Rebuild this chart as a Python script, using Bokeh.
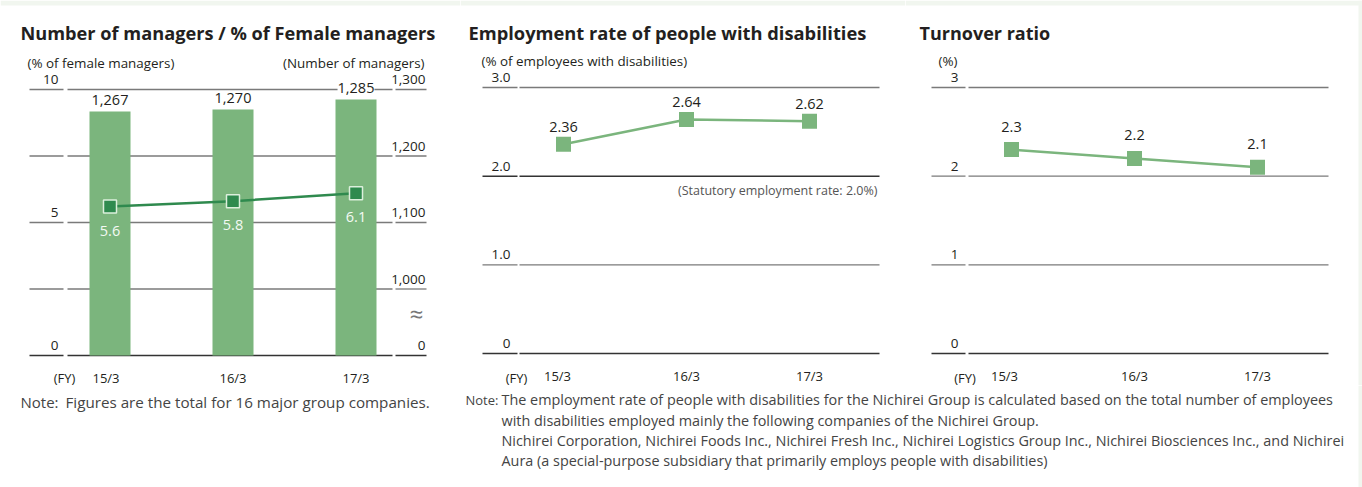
from bokeh.plotting import figure
from bokeh.layouts import column, row
from bokeh.models import ColumnDataSource, Range1d, Label, LabelSet, BoxAnnotation
from bokeh.core.properties import value
from bokeh.embed import file_html
from bokeh.resources import INLINE

FONT = "Open Sans"
TXT = "#231f20"
NOTE = "#444444"
GREEN = "#7bb57d"
DARK_GREEN = "#2f8a4e"
STRIP = "#f1f6ef"

# ---------------- data ----------------
years = ["15/3", "16/3", "17/3"]
managers = [1267, 1270, 1285]
female_pct = [5.6, 5.8, 6.1]
disab_rate = [2.36, 2.64, 2.62]
turnover = [2.3, 2.2, 2.1]

mgr_left_ticks = [0, 2.5, 5, 7.5, 10]
mgr_left_labels = ["0", "", "5", "", "10"]
mgr_right_ticks = [900, 1000, 1100, 1200, 1300]
mgr_right_labels = ["0", "1,000", "1,100", "1,200", "1,300"]
mgr_axis_base = 900          # value drawn at the broken-axis "0"
mgr_per_pct_unit = 40        # 1 unit on left axis = 40 managers on right axis
disab_ticks = [0, 1, 2, 3]
disab_labels = ["0", "1.0", "2.0", "3.0"]
statutory_rate = 2
turn_ticks = [0, 1, 2, 3]
turn_labels = ["0", "1", "2", "3"]

# ---------------- layout (page pixels) ----------------
ROW_H = 385
NOTE_H = 102
STEP = 123.0
idx = list(range(len(years)))


class Panel:
    def __init__(self, fig_x0, fig_w, cat0, y_zero, ppu, strip_right=False):
        self.cat0, self.fx0, self.y_zero, self.ppu = cat0, fig_x0, y_zero, ppu
        p = figure(width=fig_w, height=ROW_H,
                   x_range=Range1d(self.dx(fig_x0), self.dx(fig_x0 + fig_w)),
                   y_range=Range1d(self.dy(ROW_H), self.dy(0)),
                   output_backend="svg", toolbar_location=None,
                   x_axis_location=None, y_axis_location=None, min_border=0,
                   outline_line_color=None, background_fill_color="white",
                   border_fill_color="white")
        p.xgrid.visible = False
        p.ygrid.visible = False
        p.add_layout(BoxAnnotation(bottom=self.dy(5), fill_color=STRIP, fill_alpha=1,
                                   line_color=None, level="underlay"))
        if strip_right:
            p.add_layout(BoxAnnotation(left=self.dx(1358), fill_color=STRIP, fill_alpha=1,
                                       line_color=None, level="underlay"))
        self.p = p

    def dx(self, px):
        return (px - self.cat0) / STEP

    def dy(self, py):
        return (self.y_zero - py) / self.ppu

    def grid_segments(self, ticks, segs, dark_vals, y_range_name="default"):
        x0, x1, ys, cols, wid = [], [], [], [], []
        for t in ticks:
            for a, b in segs:
                x0.append(self.dx(a)); x1.append(self.dx(b)); ys.append(t)
                cols.append("#333333" if t in dark_vals else "#7a7a7a")
                wid.append(1.5 if t in dark_vals else 1.3)
        self.p.segment(x0=x0, y0=ys, x1=x1, y1=ys, line_color=cols, line_width=wid,
                       y_range_name=y_range_name)

    def tick_text(self, x_px, ticks, labels, y_range_name="default"):
        self.p.text(x=[self.dx(x_px)] * len(ticks), y=ticks, text=labels,
                    text_font=value(FONT), text_font_size="13.5px", text_color=TXT,
                    text_align="right", text_baseline="middle", y_offset=-10,
                    y_range_name=y_range_name)

    def cat_text(self, base, first_shift):
        self.p.text(x=idx, y=[base] * len(idx), text=years, text_font=value(FONT),
                    text_font_size="13px", text_color=TXT, text_align="center",
                    text_baseline="middle", y_offset=22,
                    x_offset=[first_shift] + [0] * (len(idx) - 1))

    def slabel(self, px, py, text, size="13.4px", align="left", color=TXT, bold=False):
        self.p.add_layout(Label(x=px - self.fx0, y=ROW_H - py, x_units="screen",
                                y_units="screen", text=text, text_font=FONT,
                                text_font_size=size, text_align=align,
                                text_baseline="middle", text_color=color,
                                text_font_style="bold" if bold else "normal"))


# ---------------- chart 1 ----------------
c1 = Panel(0, 460, 109.5, 355, 266 / 10)
p1 = c1.p
ys = p1.y_range
p1.extra_y_ranges = {"mgr": Range1d(mgr_axis_base + mgr_per_pct_unit * ys.start,
                                    mgr_axis_base + mgr_per_pct_unit * ys.end)}
c1.grid_segments(mgr_left_ticks, [(29, 63), (67, 392), (395, 426)], [0])
c1.tick_text(58, mgr_left_ticks, mgr_left_labels)
c1.tick_text(425, mgr_right_ticks, mgr_right_labels, "mgr")
c1.cat_text(mgr_left_ticks[0], -4)
p1.vbar(x=idx, top=managers, bottom=mgr_axis_base, width=41 / STEP, fill_color=GREEN,
        line_color=None, y_range_name="mgr")
src1 = ColumnDataSource(dict(x=idx, y=managers, t=[f"{v:,}" for v in managers]))
p1.add_layout(LabelSet(x="x", y="y", text="t", source=src1, y_range_name="mgr",
                       text_font=value(FONT), text_font_size="14.5px", text_color=TXT,
                       text_align="center", text_baseline="middle", y_offset=11,
                       background_fill_color="white"))
p1.line(idx, female_pct, line_color=DARK_GREEN, line_width=2.5)
p1.scatter(idx, female_pct, marker="square", size=13, fill_color=DARK_GREEN,
           line_color="#dcefdc", line_width=1.5)
p1.text(x=idx, y=female_pct, text=[f"{v:.1f}" for v in female_pct], text_font=value(FONT),
        text_font_size="14.5px", text_color="#f4faf4", text_align="center",
        text_baseline="middle", y_offset=24)
c1.slabel(20, 32, "Number of managers / % of Female managers", size="18.2px", bold=True)
c1.slabel(27, 62, "(% of female managers)")
c1.slabel(424, 62, "(Number of managers)", align="right")
c1.slabel(64, 377, "(FY)", size="13px", align="center")
c1.slabel(416, 313, "≈", size="24px", align="center", color="#777777")

# ---------------- chart 2 ----------------
c2 = Panel(460, 445, 563, 353, 266 / 3)
p2 = c2.p
c2.grid_segments(disab_ticks, [(482, 517), (519, 879)], [0, statutory_rate])
c2.tick_text(510, disab_ticks, disab_labels)
c2.cat_text(disab_ticks[0], -6)
p2.line(idx, disab_rate, line_color=GREEN, line_width=2.5)
p2.scatter(idx, disab_rate, marker="square", size=15, fill_color=GREEN, line_color=None)
p2.text(x=idx, y=disab_rate, text=[f"{v:.2f}" for v in disab_rate], text_font=value(FONT),
        text_font_size="14.5px", text_color=TXT, text_align="center",
        text_baseline="middle", y_offset=-17)
c2.slabel(468, 32, "Employment rate of people with disabilities", size="18.3px", bold=True)
c2.slabel(481, 60, "(% of employees with disabilities)")
c2.slabel(877, 190, "(Statutory employment rate: 2.0%)", size="12.5px", align="right",
          color="#555555")
c2.slabel(516, 377, "(FY)", size="13px", align="center")

# ---------------- chart 3 ----------------
c3 = Panel(905, 457, 1011, 353, 266 / 3, strip_right=True)
p3 = c3.p
c3.grid_segments(turn_ticks, [(931, 965), (968, 1328)], [0])
c3.tick_text(958, turn_ticks, turn_labels)
c3.cat_text(turn_ticks[0], -7)
p3.line(idx, turnover, line_color=GREEN, line_width=2.5)
p3.scatter(idx, turnover, marker="square", size=15, fill_color=GREEN, line_color=None)
p3.text(x=idx, y=turnover, text=[f"{v:.1f}" for v in turnover], text_font=value(FONT),
        text_font_size="14.5px", text_color=TXT, text_align="center",
        text_baseline="middle", y_offset=-23)
c3.slabel(919, 32, "Turnover ratio", size="18px", bold=True)
c3.slabel(938, 60, "(%)")
c3.slabel(964.5, 377, "(FY)", size="13px", align="center")

# ---------------- notes ----------------
pn = figure(width=1362, height=NOTE_H, x_range=Range1d(0, 1362), y_range=Range1d(0, NOTE_H),
            output_backend="svg", toolbar_location=None, x_axis_location=None,
            y_axis_location=None, min_border=0, outline_line_color=None)
pn.xgrid.visible = False
pn.ygrid.visible = False
pn.add_layout(BoxAnnotation(left=1358, fill_color=STRIP, fill_alpha=1, line_color=None,
                            level="underlay"))


def nlabel(px, py, text, size="14.4px"):
    pn.add_layout(Label(x=px, y=ROW_H + NOTE_H - py, x_units="screen", y_units="screen",
                        text=text, text_font=FONT, text_font_size=size, text_align="left",
                        text_baseline="middle", text_color=NOTE))


nlabel(20, 401, "Note:", size="15px")
nlabel(65, 401, "Figures are the total for 16 major group companies.", size="15.2px")
nlabel(465, 399, "Note:", size="13px")
nlabel(501, 399, "The employment rate of people with disabilities for the Nichirei Group is "
       "calculated based on the total number of employees")
nlabel(501, 420, "with disabilities employed mainly the following companies of the Nichirei Group.")
nlabel(501, 440, "Nichirei Corporation, Nichirei Foods Inc., Nichirei Fresh Inc., Nichirei "
       "Logistics Group Inc., Nichirei Biosciences Inc., and Nichirei")
nlabel(501, 460, "Aura (a special-purpose subsidiary that primarily employs people with "
       "disabilities)")

layout = column(row(p1, p2, p3, spacing=0), pn, spacing=0)
open("out.html", "w").write(file_html(layout, INLINE))
